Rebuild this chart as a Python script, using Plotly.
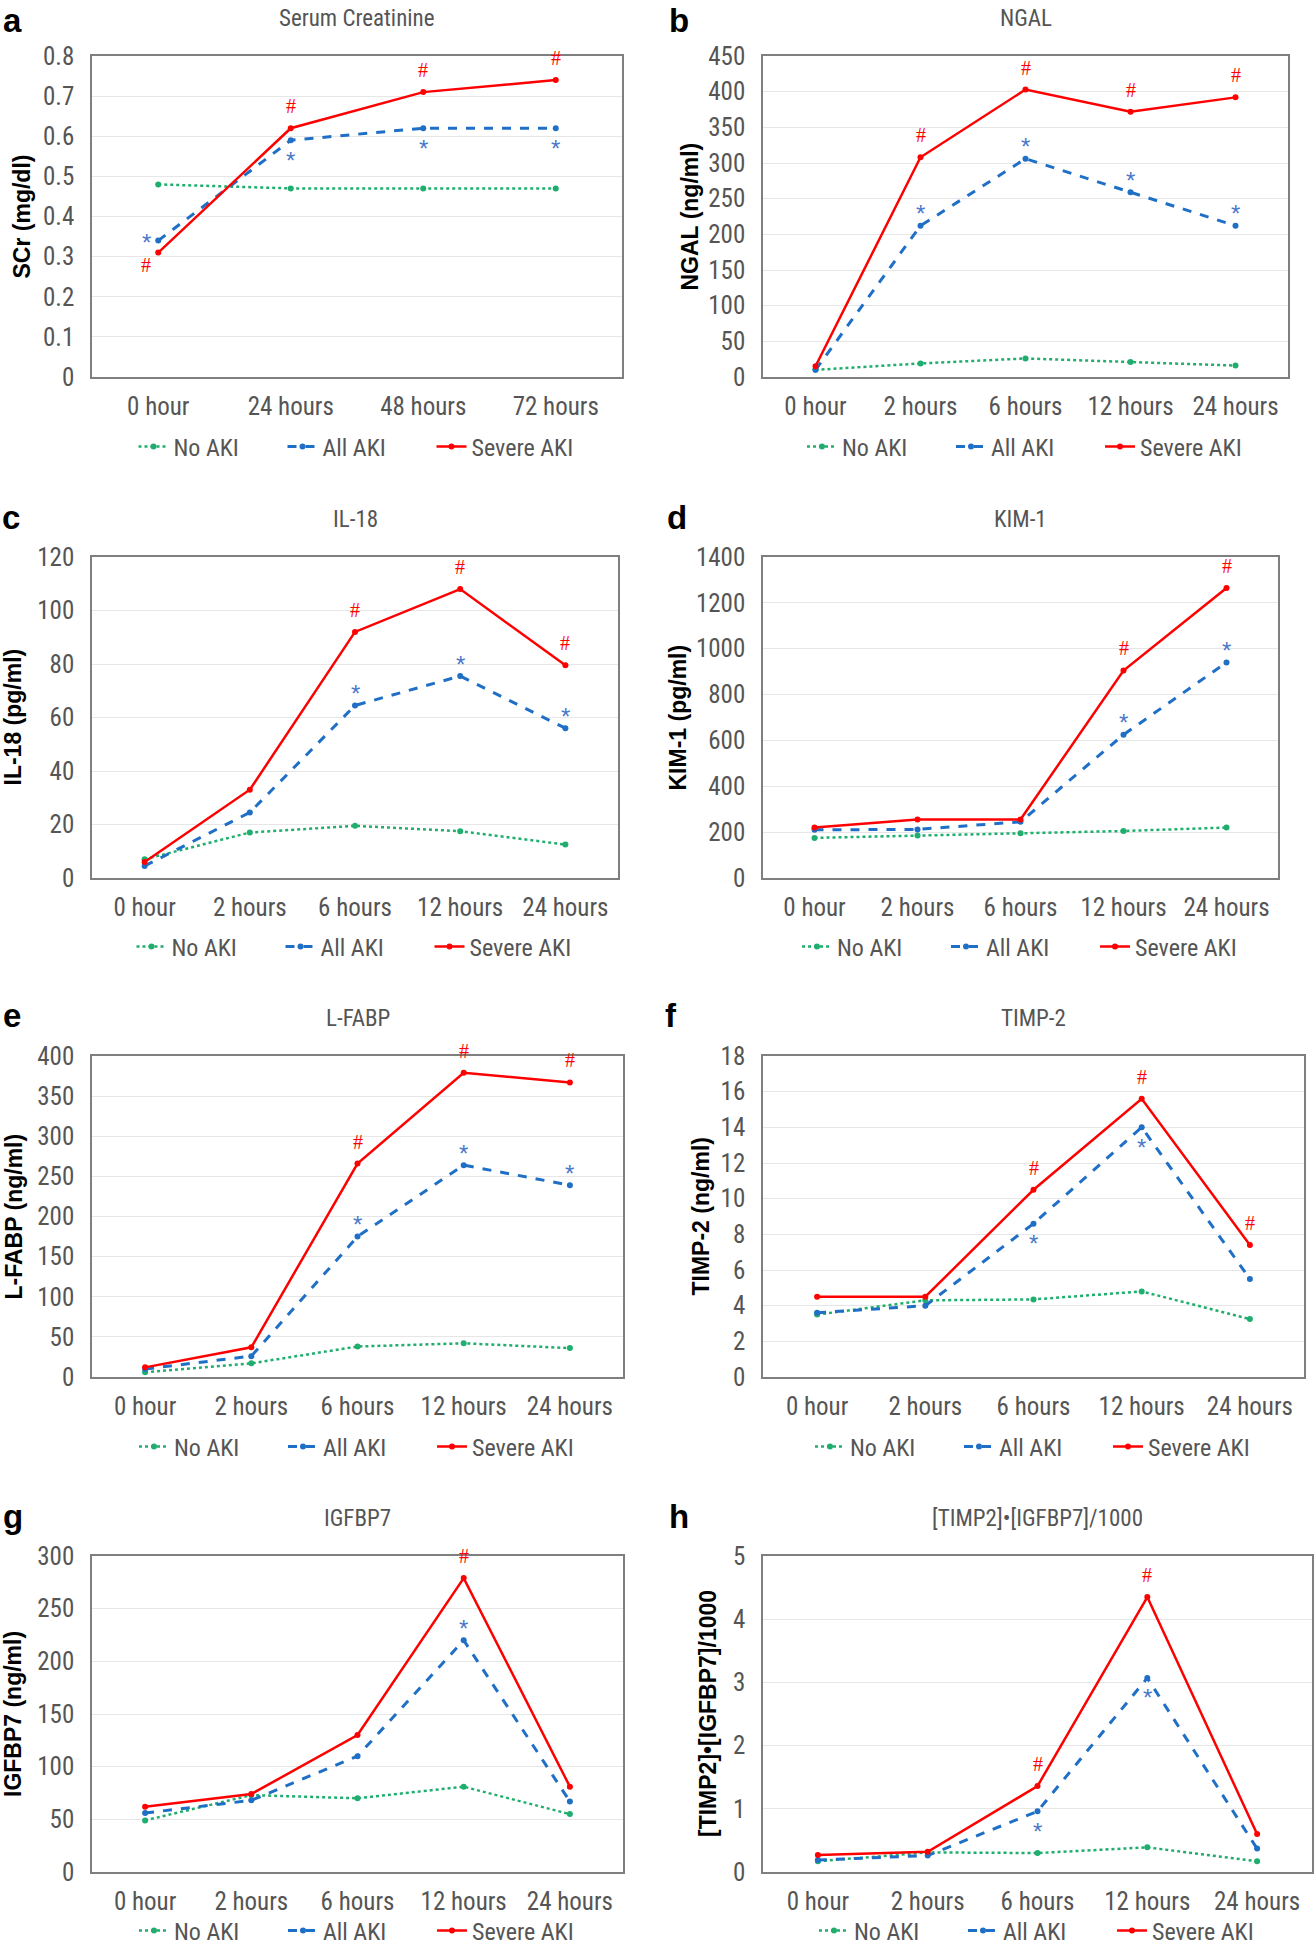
import plotly.graph_objects as go

W, H = 1316, 1950

# ---------------- data ----------------
cats4 = ["0 hour", "24 hours", "48 hours", "72 hours"]
cats5 = ["0 hour", "2 hours", "6 hours", "12 hours", "24 hours"]
series_names = ["No AKI", "All AKI", "Severe AKI"]

scr_no = [0.48, 0.47, 0.47, 0.47]
scr_all = [0.34, 0.59, 0.62, 0.62]
scr_sev = [0.31, 0.62, 0.71, 0.74]

ngal_no = [10, 19, 26, 21, 16]
ngal_all = [10, 212, 306, 259, 212]
ngal_sev = [15, 308, 403, 372, 392]

il18_no = [7, 17, 19.5, 17.5, 12.5]
il18_all = [4.5, 24.5, 64.5, 75.5, 56]
il18_sev = [6, 33, 92, 108, 79.5]

kim_no = [175, 185, 195, 205, 220]
kim_all = [210, 212, 245, 625, 940]
kim_sev = [220, 255, 255, 905, 1265]

lfabp_no = [6, 17, 38, 42, 36]
lfabp_all = [10, 26, 175, 264, 239]
lfabp_sev = [12, 37, 266, 379, 367]

timp_no = [3.5, 4.3, 4.35, 4.8, 3.25]
timp_all = [3.6, 4.0, 8.6, 14.0, 5.5]
timp_sev = [4.5, 4.5, 10.5, 15.6, 7.4]

igf_no = [49, 73, 70, 81, 55]
igf_all = [56, 68, 110, 220, 67]
igf_sev = [62, 74, 130, 279, 81]

prod_no = [0.17, 0.31, 0.30, 0.39, 0.17]
prod_all = [0.19, 0.26, 0.96, 3.07, 0.37]
prod_sev = [0.27, 0.32, 1.36, 4.35, 0.60]

titles = ["Serum Creatinine", "NGAL", "IL-18", "KIM-1", "L-FABP", "TIMP-2",
          "IGFBP7", "[TIMP2]\u2022[IGFBP7]/1000"]
ytitles = ["SCr (mg/dl)", "NGAL (ng/ml)", "IL-18 (pg/ml)", "KIM-1 (pg/ml)",
           "L-FABP (ng/ml)", "TIMP-2 (ng/ml)", "IGFBP7 (ng/ml)",
           "[TIMP2]\u2022[IGFBP7]/1000"]
letters = ["a", "b", "c", "d", "e", "f", "g", "h"]
ymax = [0.8, 450, 120, 1400, 400, 18, 300, 5]
ydtick = [0.1, 50, 20, 200, 50, 2, 50, 1]

# significance markers: (category index, placement)
star_marks = [
    [(0, "left"), (1, "below"), (2, "below"), (3, "below")],
    [(1, "above"), (2, "above"), (3, "above"), (4, "above")],
    [(2, "above"), (3, "above"), (4, "above")],
    [(3, "above"), (4, "above")],
    [(2, "above"), (3, "above"), (4, "above")],
    [(2, "below"), (3, "below")],
    [(3, "above")],
    [(2, "below"), (3, "below")],
]
hash_marks = [
    [(0, "belowleft"), (1, "above"), (2, "above"), (3, "above")],
    [(1, "above"), (2, "above"), (3, "above"), (4, "above")],
    [(2, "above"), (3, "above"), (4, "above")],
    [(3, "above"), (4, "above")],
    [(2, "above"), (3, "above"), (4, "above")],
    [(2, "above"), (3, "above"), (4, "above")],
    [(3, "above")],
    [(2, "above"), (3, "above")],
]

panels_data = [
    (cats4, scr_no, scr_all, scr_sev),
    (cats5, ngal_no, ngal_all, ngal_sev),
    (cats5, il18_no, il18_all, il18_sev),
    (cats5, kim_no, kim_all, kim_sev),
    (cats5, lfabp_no, lfabp_all, lfabp_sev),
    (cats5, timp_no, timp_all, timp_sev),
    (cats5, igf_no, igf_all, igf_sev),
    (cats5, prod_no, prod_all, prod_sev),
]

# ---------------- layout geometry (pixels) ----------------
boxes = [  # x0, x1, y0, y1
    (92, 622, 56, 377), (763, 1288, 56, 377),
    (92, 618, 557, 878), (763, 1278, 557, 878),
    (92, 623, 1056, 1377), (763, 1304, 1056, 1377),
    (92, 623, 1556, 1872), (763, 1312, 1556, 1872),
]
title_y = [18, 18, 520, 520, 1018, 1018, 1518, 1518]
letter_y = [21, 21, 517, 517, 1016, 1016, 1516, 1516]
legend_y = [447, 447, 947, 947, 1447, 1447, 1931, 1931]
ytitle_x = [21, 689, 12, 677, 13, 700, 13, 708]
letter_x = [12, 679, 11, 677, 12, 671, 13, 679]

COL_NO = "#1fae6e"
COL_ALL = "#1f6fc6"
COL_SEV = "#ff0000"
STAR_COL = "#4a78c8"
TICK_COL = "#555555"
TICK_FONT = "Liberation Sans Narrow, Roboto Condensed, Open Sans, sans-serif"

styles = [
    dict(color=COL_NO, dash="dot", width=2.5),
    dict(color=COL_ALL, dash="dash", width=3),
    dict(color=COL_SEV, dash="solid", width=2.5),
]

def px(x):
    return x / W

def py(y):
    return 1 - y / H

fig = go.Figure()
annotations = []
layout = dict(width=W, height=H,
              margin=dict(l=0, r=0, t=0, b=0, autoexpand=False),
              paper_bgcolor="white", plot_bgcolor="white", showlegend=True)

for i, (cats, s_no, s_all, s_sev) in enumerate(panels_data):
    n = i + 1
    xa = "x" if n == 1 else f"x{n}"
    ya = "y" if n == 1 else f"y{n}"
    leg = "legend" if n == 1 else f"legend{n}"
    for name, vals, st in zip(series_names, [s_no, s_all, s_sev], styles):
        fig.add_trace(go.Scatter(
            x=cats, y=vals, name=name, mode="lines+markers",
            line=dict(color=st["color"], dash=st["dash"], width=st["width"]),
            marker=dict(color=st["color"], size=6, symbol="circle"),
            xaxis=xa, yaxis=ya, legend=leg, hoverinfo="x+y+name"))
    x0, x1, y0, y1 = boxes[i]
    axis_common = dict(showline=True, mirror=True, linecolor="#7f7f7f", linewidth=1.5,
                       ticks="", tickfont=dict(family=TICK_FONT, size=25, color=TICK_COL))
    layout["xaxis" if n == 1 else f"xaxis{n}"] = dict(
        domain=[px(x0), px(x1)], anchor=ya, type="category",
        range=[-0.5, len(cats) - 0.5], showgrid=False, ticklabelstandoff=6,
        **axis_common)
    layout["yaxis" if n == 1 else f"yaxis{n}"] = dict(
        domain=[py(y1), py(y0)], anchor=xa, range=[0, ymax[i]], dtick=ydtick[i],
        showgrid=True, gridcolor="#e6e6e6", gridwidth=1, zeroline=False,
        ticklabelstandoff=11, **axis_common)
    layout[leg] = dict(orientation="h", x=px((x0 + x1) / 2), xanchor="center",
                       y=py(legend_y[i]), yanchor="middle",
                       font=dict(family=TICK_FONT, size=24, color=TICK_COL),
                       entrywidth=104, entrywidthmode="pixels", itemwidth=30,
                       bgcolor="rgba(0,0,0,0)", tracegroupgap=0)
    # chart title
    annotations.append(dict(text=titles[i], xref="paper", yref="paper",
                            x=px((x0 + x1) / 2), y=py(title_y[i]),
                            xanchor="center", yanchor="middle", showarrow=False,
                            font=dict(family=TICK_FONT, size=23, color=TICK_COL)))
    # y axis title
    annotations.append(dict(text=f"<b>{ytitles[i]}</b>", xref="paper", yref="paper",
                            x=px(ytitle_x[i]), y=py((y0 + y1) / 2), textangle=-90,
                            xanchor="center", yanchor="middle", showarrow=False,
                            font=dict(family="Liberation Sans, Arial, sans-serif",
                                      size=23, color="black")))
    # panel letter
    annotations.append(dict(text=f"<b>{letters[i]}</b>", xref="paper", yref="paper",
                            x=px(letter_x[i]), y=py(letter_y[i]),
                            xanchor="center", yanchor="middle", showarrow=False,
                            font=dict(family="Liberation Sans, Arial, sans-serif",
                                      size=33, color="black")))
    # significance markers
    for idx, pos in star_marks[i]:
        xs, ys = 0, 0
        if pos == "above":
            ys = 12
        elif pos == "below":
            ys = -20
        elif pos == "left":
            xs, ys = -12, -2
        annotations.append(dict(text="*", xref=xa, yref=ya, x=cats[idx], y=s_all[idx],
                                xshift=xs, yshift=ys, showarrow=False,
                                xanchor="center", yanchor="middle",
                                font=dict(family="Liberation Sans, Arial, sans-serif",
                                          size=24, color=STAR_COL)))
    for idx, pos in hash_marks[i]:
        xs, ys = 0, 0
        if pos == "above":
            ys = 22
        elif pos == "belowleft":
            xs, ys = -12, -12
        annotations.append(dict(text="#", xref=xa, yref=ya, x=cats[idx], y=s_sev[idx],
                                xshift=xs, yshift=ys, showarrow=False,
                                xanchor="center", yanchor="middle",
                                font=dict(family="Liberation Serif, Times New Roman, serif",
                                          size=20, color=COL_SEV)))

layout["annotations"] = annotations
fig.update_layout(**layout)
fig.write_html("out.html", config={"displayModeBar": False},
               post_script="document.body.style.margin='0';"
                           "document.body.style.overflow='hidden';")
